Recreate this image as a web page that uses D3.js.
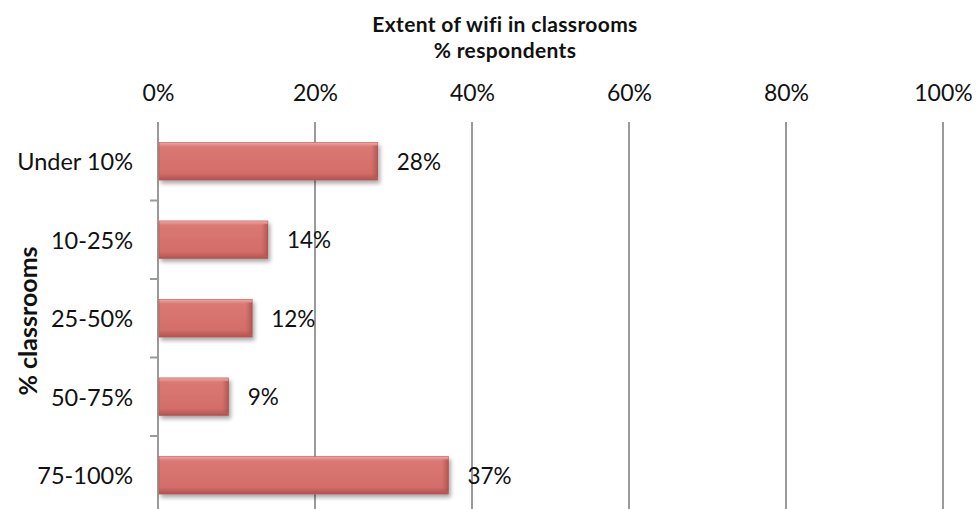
<!DOCTYPE html>
<html>
<head>
<meta charset="utf-8">
<script src="https://cdn.jsdelivr.net/npm/d3@7"></script>
<style>
  html, body { margin: 0; padding: 0; background: #fff; }
  svg { display: block; font-family: Lato, "Open Sans", sans-serif; }
</style>
</head>
<body>
<svg id="chart" width="978" height="509"></svg>
<script>
// Share of respondents by how many classrooms have wifi
const categories = ["Under 10%", "10-25%", "25-50%", "50-75%", "75-100%"];
const values = [28, 14, 12, 9, 37];
const xTicks = [0, 20, 40, 60, 80, 100];
const titleLines = ["Extent of wifi in classrooms", "% respondents"];
const yTitle = "% classrooms";

const svg = d3.select("#chart");
const W = 978, H = 509;
const plotLeft = 158, plotRight = 943, plotTop = 122, plotBottom = 514.5;

const x = d3.scaleLinear().domain([0, 100]).range([plotLeft, plotRight]);
const y = d3.scaleBand().domain(categories).range([plotTop, plotBottom]).paddingInner(0.52).paddingOuter(0.26);

const defs = svg.append("defs");
const grad = defs.append("linearGradient").attr("id", "barGrad")
  .attr("x1", 0).attr("y1", 0).attr("x2", 0).attr("y2", 1);
grad.append("stop").attr("offset", "0%").attr("stop-color", "#f0a8a5");
grad.append("stop").attr("offset", "12%").attr("stop-color", "#da7874");
grad.append("stop").attr("offset", "82%").attr("stop-color", "#d36d69");
grad.append("stop").attr("offset", "100%").attr("stop-color", "#b0524f");

const endGrad = defs.append("linearGradient").attr("id", "endGrad")
  .attr("x1", 0).attr("y1", 0).attr("x2", 1).attr("y2", 0);
endGrad.append("stop").attr("offset", "0%").attr("stop-color", "#b85956").attr("stop-opacity", 0);
endGrad.append("stop").attr("offset", "100%").attr("stop-color", "#a84c49").attr("stop-opacity", 0.8);

const shadow = defs.append("filter").attr("id", "shadow")
  .attr("x", "-10%").attr("y", "-30%").attr("width", "130%").attr("height", "180%");
shadow.append("feGaussianBlur").attr("in", "SourceAlpha").attr("stdDeviation", 2);
shadow.append("feOffset").attr("dx", 2).attr("dy", 3).attr("result", "off");
shadow.append("feComponentTransfer").append("feFuncA").attr("type", "linear").attr("slope", 0.35);
const merge = shadow.append("feMerge");
merge.append("feMergeNode");
merge.append("feMergeNode").attr("in", "SourceGraphic");

// vertical gridlines
svg.append("g").selectAll("line").data(xTicks).join("line")
  .attr("x1", d => x(d)).attr("x2", d => x(d))
  .attr("y1", plotTop).attr("y2", H)
  .attr("stroke", "#9a9a9a").attr("stroke-width", 2);

// top axis labels
const xAxis = d3.axisTop(x).tickValues(xTicks).tickFormat(d => d + "%").tickSize(0).tickPadding(0);
const gx = svg.append("g").attr("transform", `translate(0,${plotTop - 21})`).call(xAxis);
gx.select(".domain").remove();
gx.selectAll("text").attr("dy", 0).attr("font-size", 23).attr("fill", "#111").attr("font-family", "Lato, sans-serif");

// category tick marks at band boundaries
const boundaries = categories.slice(1).map(c => y(c) - y.step() * y.paddingInner() / 2);
svg.append("g").selectAll("line").data(boundaries).join("line")
  .attr("x1", plotLeft - 8).attr("x2", plotLeft).attr("y1", d => d).attr("y2", d => d)
  .attr("stroke", "#9a9a9a").attr("stroke-width", 2);

// category labels
svg.append("g").selectAll("text").data(categories).join("text")
  .attr("x", 133).attr("y", d => y(d) + y.bandwidth() / 2)
  .attr("text-anchor", "end").attr("dominant-baseline", "central")
  .attr("font-size", 23.5).attr("fill", "#111").text(d => d);

// bars
const bars = svg.append("g").selectAll("g").data(categories).join("g");
bars.append("rect")
  .attr("x", x(0) + 1).attr("y", d => y(d))
  .attr("width", (d, i) => x(values[i]) - x(0) - 1).attr("height", y.bandwidth())
  .attr("fill", "url(#barGrad)").attr("stroke", "#b45b58").attr("stroke-width", 0.6)
  .attr("filter", "url(#shadow)");
bars.append("rect")
  .attr("x", (d, i) => x(values[i]) - 7).attr("y", d => y(d) + 3)
  .attr("width", 7).attr("height", y.bandwidth() - 6)
  .attr("fill", "url(#endGrad)");

// value labels
svg.append("g").selectAll("text").data(categories).join("text")
  .attr("x", (d, i) => x(values[i]) + 19).attr("y", d => y(d) + y.bandwidth() / 2)
  .attr("dominant-baseline", "central").attr("font-size", 22.5).attr("fill", "#111")
  .text((d, i) => values[i] + "%");

// titles
svg.append("g").selectAll("text").data(titleLines).join("text")
  .attr("x", 505).attr("y", (d, i) => 32 + i * 25.5)
  .attr("text-anchor", "middle").attr("font-weight", "bold").attr("font-size", 21)
  .attr("letter-spacing", 0.35).attr("fill", "#111")
  .text(d => d);

svg.append("text")
  .attr("transform", "translate(37,321) rotate(-90)")
  .attr("text-anchor", "middle").attr("font-weight", "bold").attr("font-size", 25).attr("fill", "#111")
  .text(yTitle);
</script>
</body>
</html>
